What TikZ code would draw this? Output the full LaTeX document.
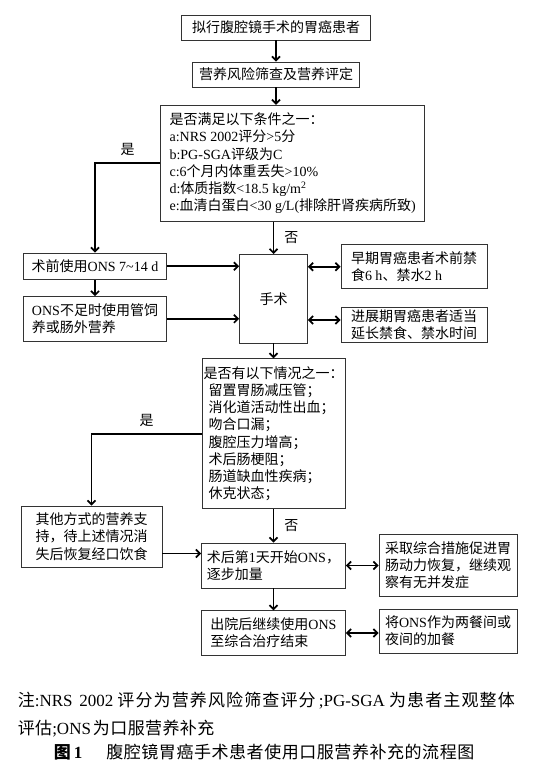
\documentclass[tikz,border=0pt]{standalone}
\usepackage{fontspec}
\setmainfont{Liberation Serif}
\newfontfamily\cjkfont{Noto Sans CJK SC}
\usetikzlibrary{arrows.meta}

\XeTeXinterchartokenstate=1
\newXeTeXintercharclass\cjkclass
\newcount\cjkcode
\cjkcode="2E80
\loop\ifnum\cjkcode<"A000
  \XeTeXcharclass\cjkcode=\cjkclass
  \advance\cjkcode by 1
\repeat
\cjkcode="FF00
\loop\ifnum\cjkcode<"FFF0
  \XeTeXcharclass\cjkcode=\cjkclass
  \advance\cjkcode by 1
\repeat
\newcommand\cjkgap{}
\XeTeXinterchartoks 0 \cjkclass = {\cjkfont}
\XeTeXinterchartoks 4095 \cjkclass = {\cjkfont}
\XeTeXinterchartoks \cjkclass 0 = {\rmfamily}
\XeTeXinterchartoks \cjkclass 4095 = {\rmfamily}
\XeTeXinterchartoks \cjkclass \cjkclass = {\cjkgap}

\begin{document}
\begin{tikzpicture}[x=1pt,y=-1pt,->,>={Straight Barb[length=4pt,width=8pt]},
        line width=1.7pt,
        box/.style={draw=black!80,line width=0.8pt,inner sep=1pt,align=left,
          font=\fontsize{14}{17.2}\selectfont},
        lbl/.style={font=\fontsize{14}{17}\selectfont,inner sep=0pt},
        note/.style={anchor=west,inner sep=0pt,font=\fontsize{17}{20}\selectfont}]
      \path[use as bounding box,fill=white] (0,0) rectangle (538,776);
      \node[box,minimum width=189pt,minimum height=25pt] (patient) at (276,27.5)
        {拟行腹腔镜手术的胃癌患者};
      \node[box,minimum width=167pt,minimum height=25pt] (screen) at (276,74.5)
        {营养风险筛查及营养评定};
      \node[box,minimum width=264pt,minimum height=116pt] (cond) at (292.7,163.2)
        {是否满足以下条件之一：\\
        a:NRS 2002评分>5分\\
        b:PG-SGA评级为C\\
        c:6个月内体重丢失>10\%\\
        d:体质指数<18.5 kg/m\textsuperscript{2}\\
        e:血清白蛋白<30 g/L(排除肝肾疾病所致)};
      \node[box,minimum width=143pt,minimum height=26.5pt] (preop) at (95,266.2)
        {术前使用ONS 7\textasciitilde 14 d};
      \node[box,minimum width=143pt,minimum height=44.5pt] (tube) at (95,318.8)
        {ONS不足时使用管饲\\养或肠外营养};
      \node[box,minimum width=68pt,minimum height=88.6pt] (op) at (273.5,298.7)
        {手术};
      \node[box,minimum width=146pt,minimum height=44pt] (early) at (414,266.7)
        {早期胃癌患者术前禁\\食6 h、禁水2 h};
      \node[box,minimum width=146pt,minimum height=34.5pt] (late) at (414,325)
        {进展期胃癌患者适当\\延长禁食、禁水时间};
      \node[box,minimum width=143pt,minimum height=150pt] (check) at (273.5,433.7)
        {是否有以下情况之一：\\
        \hspace{5pt}留置胃肠减压管；\\
        \hspace{5pt}消化道活动性出血；\\
        \hspace{5pt}吻合口漏；\\
        \hspace{5pt}腹腔压力增高；\\
        \hspace{5pt}术后肠梗阻；\\
        \hspace{5pt}肠道缺血性疾病；\\
        \hspace{5pt}休克状态；};
      \node[box,minimum width=141pt,minimum height=61pt] (other) at (91.5,536.5)
        {其他方式的营养支\\持，待上述情况消\\失后恢复经口饮食};
      \node[box,minimum width=144pt,minimum height=45pt] (post) at (273.5,565.5)
        {术后第1天开始ONS，\\逐步加量};
      \node[box,minimum width=144pt,minimum height=44.5pt] (disch) at (273.5,633)
        {出院后继续使用ONS\\至综合治疗结束};
      \node[box,minimum width=138pt,minimum height=61.5pt] (promote) at (448,565.3)
        {采取综合措施促进胃\\肠动力恢复，继续观\\察有无并发症};
      \node[box,minimum width=138pt,minimum height=44pt] (snack) at (448,631)
        {将ONS作为两餐间或\\夜间的加餐};
      \path (patient) edge (screen)
      (screen.south) edge (screen.south |- cond.north)
      (op.north |- cond.south) edge node[lbl,right=10pt] {否} (op.north)
      (preop) edge (tube)
      (preop) edge (preop -| op.west)
      (tube) edge (tube -| op.west)
      (op.east |- early.west) edge[<->] (early.west)
      ([yshift=5pt]late.west -| op.east) edge[<->] ([yshift=5pt]late.west)
      (op) edge (check)
      (check) edge node[lbl,right=10pt] {否} (post)
      ([yshift=-17pt]other.east) edge ([yshift=-17pt]other.east -| post.west)
      (post) edge (disch)
      (post) edge[<->] (post -| promote.west)
      (disch) edge[<->] (disch -| snack.west);
      \draw (cond.west) -| node[lbl,pos=.25,above=7pt] {是} (preop.north);
      \draw (check.west) -| node[lbl,pos=.25,above=6pt] {是} (other.north);
      \node[note] (note1) at (17,701)
        {\renewcommand\cjkgap{\hskip 0pt plus 1pt}\makebox[497pt][s]{注:NRS 2002\hskip 3pt plus 1pt 评分为营养风险筛查评分\hskip 2pt plus 1pt;PG-SGA\hskip 3pt plus 1pt 为患者主观整体}};
      \node[note] (note2) at (17,728.6)
        {\renewcommand\cjkgap{\hskip 0.4pt}评估;ONS\hskip 2pt 为口服营养补充};
      \node[note] (caption) at (53,752)
        {\renewcommand\cjkgap{\hskip 0.55pt}{\bfseries 图\hspace{3pt}1}\hspace{24pt}腹腔镜胃癌手术患者使用口服营养补充的流程图};
    \end{tikzpicture}
\end{document}
